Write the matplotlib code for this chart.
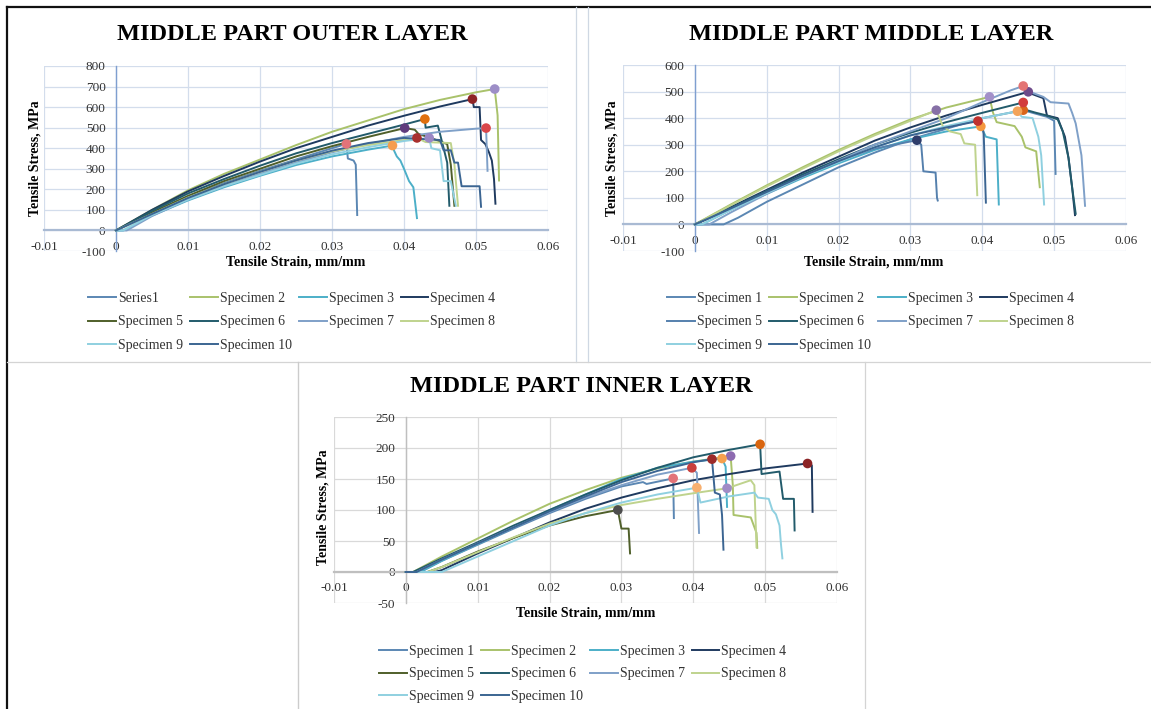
import matplotlib
matplotlib.use("Agg")
import matplotlib.pyplot as plt
from matplotlib.lines import Line2D

plt.rcParams['font.family'] = ['Liberation Serif', 'DejaVu Serif']

W, H = 1151, 709

XTICKS = [-0.01, 0, 0.01, 0.02, 0.03, 0.04, 0.05, 0.06]
XTICK_LABELS = ['-0.01', '0', '0.01', '0.02', '0.03', '0.04', '0.05', '0.06']

OUTER_NAMES = ['Series1', 'Specimen 2', 'Specimen 3', 'Specimen 4', 'Specimen 5',
               'Specimen 6', 'Specimen 7', 'Specimen 8', 'Specimen 9', 'Specimen 10']
SPEC_NAMES = ['Specimen 1', 'Specimen 2', 'Specimen 3', 'Specimen 4', 'Specimen 5',
              'Specimen 6', 'Specimen 7', 'Specimen 8', 'Specimen 9', 'Specimen 10']

OUTER_COLORS = ['#5b87b3', '#a9c26b', '#4cafc8', '#1f3a5f', '#4f5f2a',
                '#225b6b', '#7fa0c8', '#bfd38d', '#8fd0e0', '#3b6592']
MIDDLE_COLORS = ['#5b87b3', '#a9c26b', '#4cafc8', '#1f3a5f', '#5580ad',
                 '#225b6b', '#7fa0c8', '#bfd38d', '#8fd0e0', '#3b6592']
INNER_COLORS = OUTER_COLORS

# ---- MIDDLE PART OUTER LAYER ----
outer_yticks = [-100, 0, 100, 200, 300, 400, 500, 600, 700, 800]
outer_strain = [
    [0, 0.005, 0.01, 0.015, 0.02, 0.025, 0.03, 0.032, 0.0322, 0.033, 0.0333, 0.0335],
    [0, 0.005, 0.01, 0.015, 0.02, 0.025, 0.03, 0.035, 0.04, 0.045, 0.05, 0.0526, 0.053, 0.0532],
    [0, 0.001, 0.005, 0.01, 0.015, 0.02, 0.025, 0.03, 0.035, 0.0384, 0.0386, 0.039, 0.0395, 0.040, 0.0407, 0.0413, 0.0418],
    [0, 0.005, 0.01, 0.015, 0.02, 0.025, 0.03, 0.035, 0.04, 0.045, 0.0495, 0.0497, 0.0505, 0.0507, 0.0513, 0.0518, 0.0522, 0.0525, 0.0527],
    [0, 0.005, 0.01, 0.015, 0.02, 0.025, 0.03, 0.035, 0.0401, 0.0415, 0.042, 0.0445, 0.046, 0.0465, 0.047],
    [0, 0.005, 0.01, 0.015, 0.02, 0.025, 0.03, 0.035, 0.04, 0.0429, 0.043, 0.0447, 0.045, 0.0455, 0.046, 0.0463],
    [0, 0.0015, 0.005, 0.01, 0.015, 0.02, 0.025, 0.03, 0.035, 0.04, 0.045, 0.05, 0.0514, 0.0516],
    [0, 0.005, 0.01, 0.015, 0.02, 0.025, 0.03, 0.035, 0.04, 0.0418, 0.043, 0.0465, 0.047, 0.0475],
    [0, 0.001, 0.005, 0.01, 0.015, 0.02, 0.025, 0.03, 0.035, 0.04, 0.0435, 0.0438, 0.045, 0.0455, 0.0465, 0.0472],
    [0, 0.005, 0.01, 0.015, 0.02, 0.025, 0.03, 0.035, 0.04, 0.045, 0.0455, 0.0465, 0.047, 0.0475, 0.048, 0.0505, 0.0507],
]
outer_stress = [
    [0, 82, 160, 230, 290, 345, 400, 421, 350, 340, 320, 75],
    [0, 100, 195, 275, 345, 415, 480, 535, 590, 635, 672, 688, 560, 243],
    [0, 0, 72, 146, 210, 266, 318, 360, 393, 413, 390, 360, 340, 300, 240, 210, 60],
    [0, 100, 190, 265, 335, 400, 455, 510, 558, 603, 639, 600, 600, 440, 420, 380, 340, 250, 130],
    [0, 88, 168, 240, 300, 360, 410, 455, 498, 490, 470, 440, 420, 320, 120],
    [0, 95, 180, 250, 315, 375, 425, 470, 515, 542, 500, 510, 470, 400, 330, 120],
    [0, 0, 70, 150, 215, 275, 330, 380, 420, 455, 480, 495, 498, 290],
    [0, 80, 160, 225, 285, 340, 385, 415, 440, 450, 430, 425, 320, 120],
    [0, 0, 75, 150, 215, 270, 325, 370, 405, 435, 450, 400, 390, 240, 240, 120],
    [0, 80, 158, 225, 285, 340, 388, 425, 450, 440, 390, 390, 330, 330, 215, 215, 115],
]
outer_peak_x = [0.0320, 0.0526, 0.0384, 0.0495, 0.0401, 0.0429, 0.0514, 0.0418, 0.0435]
outer_peak_y = [421, 688, 413, 639, 498, 542, 498, 450, 450]
outer_peak_c = ['#e27379', '#9d8ec7', '#f59d4e', '#8e2426', '#5e3b7c',
                '#e0700f', '#d9464a', '#a8302e', '#9b87c4']

# ---- MIDDLE PART MIDDLE LAYER ----
middle_yticks = [-100, 0, 100, 200, 300, 400, 500, 600]
middle_strain = [
    [0, 0.004, 0.006, 0.01, 0.015, 0.02, 0.025, 0.03, 0.035, 0.04, 0.0457, 0.047, 0.049, 0.050, 0.0502],
    [0, 0.005, 0.01, 0.015, 0.02, 0.025, 0.03, 0.035, 0.041, 0.0415, 0.042, 0.0445, 0.0455, 0.046, 0.0475, 0.048],
    [0, 0.001, 0.005, 0.01, 0.015, 0.02, 0.025, 0.03, 0.035, 0.0398, 0.0405, 0.042, 0.0423],
    [0, 0.005, 0.01, 0.015, 0.02, 0.025, 0.03, 0.035, 0.04, 0.0464, 0.047, 0.0485, 0.049, 0.0505, 0.0515, 0.052, 0.0525, 0.0529],
    [0, 0.005, 0.01, 0.015, 0.02, 0.025, 0.0309, 0.0315, 0.0318, 0.0335, 0.0337, 0.0338],
    [0, 0.005, 0.01, 0.015, 0.02, 0.025, 0.03, 0.035, 0.04, 0.0457, 0.0462, 0.0475, 0.049, 0.0505, 0.0512, 0.052, 0.0525, 0.053],
    [0, 0.002, 0.005, 0.01, 0.015, 0.02, 0.025, 0.03, 0.035, 0.04, 0.044, 0.0457, 0.047, 0.0485, 0.0495, 0.052, 0.0525, 0.053, 0.0538, 0.0543],
    [0, 0.005, 0.01, 0.015, 0.02, 0.025, 0.03, 0.0336, 0.0345, 0.0355, 0.037, 0.0375, 0.039, 0.0393],
    [0, 0.001, 0.005, 0.01, 0.015, 0.02, 0.025, 0.03, 0.035, 0.04, 0.0449, 0.0455, 0.047, 0.0478, 0.0482, 0.0486],
    [0, 0.005, 0.01, 0.015, 0.02, 0.025, 0.03, 0.035, 0.0394, 0.040, 0.0402, 0.0405],
]
middle_stress = [
    [0, 0, 25, 85, 150, 215, 270, 320, 360, 400, 430, 420, 405, 390, 190],
    [0, 75, 147, 215, 280, 340, 395, 440, 480, 420, 385, 370, 330, 290, 275, 140],
    [0, 0, 55, 115, 175, 230, 280, 320, 350, 369, 330, 320, 75],
    [0, 65, 130, 195, 255, 315, 365, 410, 450, 499, 490, 475, 410, 400, 330, 250, 140, 35],
    [0, 60, 125, 185, 240, 285, 317, 300, 200, 195, 100, 90],
    [0, 62, 125, 188, 245, 300, 345, 385, 420, 459, 430, 420, 410, 395, 350, 250, 140, 40],
    [0, 0, 45, 115, 180, 240, 300, 350, 400, 460, 505, 521, 495, 480, 460, 455, 420, 380, 260, 70],
    [0, 72, 143, 210, 275, 335, 390, 430, 370, 350, 340, 305, 300, 110],
    [0, 0, 55, 118, 180, 235, 290, 335, 370, 400, 426, 405, 400, 330, 260, 75],
    [0, 60, 122, 182, 238, 290, 335, 365, 389, 375, 340, 82],
]
middle_peak_x = [0.0457, 0.0410, 0.0398, 0.0464, 0.0309, 0.0457, 0.0457, 0.0336, 0.0449, 0.0394]
middle_peak_y = [430, 480, 369, 499, 317, 459, 521, 430, 426, 389]
middle_peak_c = ['#d9651a', '#a390c9', '#f5983f', '#6e4a8a', '#2f3d6b',
                 '#d23c3c', '#e37474', '#8670a6', '#f3a35a', '#c0322f']

# ---- MIDDLE PART INNER LAYER ----
inner_yticks = [-50, 0, 50, 100, 150, 200, 250]
inner_strain = [
    [0, 0.002, 0.005, 0.01, 0.015, 0.02, 0.025, 0.03, 0.033, 0.0335, 0.0372, 0.0373],
    [0, 0.001, 0.005, 0.01, 0.015, 0.02, 0.025, 0.03, 0.035, 0.04, 0.0452, 0.0455, 0.0456, 0.048, 0.0488, 0.0489],
    [0, 0.002, 0.005, 0.01, 0.015, 0.02, 0.025, 0.03, 0.035, 0.04, 0.044, 0.0445, 0.0447],
    [0, 0.004, 0.005, 0.01, 0.015, 0.02, 0.025, 0.03, 0.035, 0.04, 0.045, 0.05, 0.0559, 0.0565, 0.0566],
    [0, 0.003, 0.005, 0.01, 0.015, 0.02, 0.025, 0.0295, 0.030, 0.031, 0.0312],
    [0, 0.001, 0.005, 0.01, 0.015, 0.02, 0.025, 0.03, 0.035, 0.04, 0.045, 0.0493, 0.0495, 0.052, 0.0525, 0.054, 0.0541],
    [0, 0.0015, 0.005, 0.01, 0.015, 0.02, 0.025, 0.03, 0.035, 0.0398, 0.0405, 0.0408],
    [0, 0.003, 0.005, 0.01, 0.015, 0.02, 0.025, 0.03, 0.035, 0.04, 0.0447, 0.048, 0.0485, 0.0488],
    [0, 0.005, 0.01, 0.015, 0.02, 0.025, 0.03, 0.035, 0.0405, 0.041, 0.045, 0.0485, 0.049, 0.0505, 0.051, 0.0515, 0.052, 0.0522, 0.0524],
    [0, 0.0015, 0.005, 0.01, 0.015, 0.02, 0.025, 0.03, 0.035, 0.04, 0.0426, 0.043, 0.0437, 0.044, 0.0442],
]
inner_stress = [
    [0, 0, 18, 44, 70, 95, 118, 138, 145, 142, 151, 87],
    [0, 0, 25, 54, 83, 110, 132, 152, 167, 178, 187, 140, 92, 88, 63, 39],
    [0, 0, 18, 45, 72, 100, 125, 150, 168, 178, 183, 170, 105],
    [0, 0, 3, 30, 55, 80, 102, 120, 135, 148, 158, 167, 175, 172, 97],
    [0, 0, 8, 33, 55, 75, 90, 100, 70, 70, 30],
    [0, 0, 22, 48, 75, 100, 125, 148, 168, 185, 197, 206, 158, 162, 118, 118, 67],
    [0, 0, 20, 46, 72, 97, 120, 140, 157, 168, 160, 63],
    [0, 0, 8, 32, 56, 78, 95, 108, 118, 127, 135, 148, 140, 40],
    [0, 0, 25, 50, 75, 95, 112, 125, 136, 112, 122, 128, 120, 118, 100, 93, 75, 45, 22],
    [0, 0, 20, 46, 72, 98, 122, 145, 163, 177, 182, 128, 125, 92, 36],
]
inner_peak_x = [0.0372, 0.0452, 0.0440, 0.0559, 0.0295, 0.0493, 0.0398, 0.0447, 0.0405, 0.0426]
inner_peak_y = [151, 187, 183, 175, 100, 206, 168, 135, 136, 182]
inner_peak_c = ['#e27379', '#8d6bb0', '#f5a04e', '#8b2325', '#4d4d4d',
                '#d9650f', '#c9403d', '#a08cc6', '#f7b070', '#9c2b2a']


def px(x, y):
    return x / W, 1 - y / H


def box(x0, y0, x1, y1):
    return [x0 / W, 1 - y1 / H, (x1 - x0) / W, (y1 - y0) / H]


def draw(ax, strain, stress, names, colors, pk_x, pk_y, pk_c, yticks,
         title, title_xy, xlab_xy, ylab_xy, leg_xy, leg_sp,
         grid_c, xaxis_c, yaxis_c):
    lines = []
    for sx, sy, c, n in zip(strain, stress, colors, names):
        ln, = ax.plot(sx, sy, color=c, lw=1.4, label=n, zorder=3)
        lines.append(ln)
    ax.scatter(pk_x, pk_y, s=48, c=pk_c, zorder=5, linewidths=0)

    ax.set_xlim(XTICKS[0], XTICKS[-1])
    ax.set_ylim(yticks[0], yticks[-1])
    ax.set_xticks(XTICKS, XTICK_LABELS)
    ax.set_yticks(yticks, [str(v) for v in yticks])
    ax.grid(True, color=grid_c, lw=0.9, zorder=0)
    ax.set_axisbelow(True)
    for s in ['top', 'right']:
        ax.spines[s].set_visible(False)
    ax.spines['bottom'].set_position(('data', 0))
    ax.spines['left'].set_position(('data', 0))
    ax.spines['bottom'].set_color(xaxis_c)
    ax.spines['bottom'].set_linewidth(1.6)
    ax.spines['left'].set_color(yaxis_c)
    ax.spines['left'].set_linewidth(1.0)
    ax.tick_params(axis='both', length=0, labelsize=9.5, labelcolor='#333333')
    ax.tick_params(axis='x', pad=7.5)
    ax.tick_params(axis='y', pad=7.5)

    ax.set_xlabel('Tensile Strain, mm/mm', fontsize=10, fontweight='bold', va='center')
    ax.xaxis.set_label_coords(*px(*xlab_xy), transform=fig.transFigure)
    ax.set_ylabel('Tensile Stress, MPa', fontsize=10, fontweight='bold', va='center')
    ax.yaxis.set_label_coords(*px(*ylab_xy), transform=fig.transFigure)

    fig.text(*px(*title_xy), title, ha='center', va='center',
             fontsize=17.5, fontweight='bold')

    # Excel fills the legend row by row
    order = [0, 4, 8, 1, 5, 9, 2, 6, 3, 7]
    fig.legend([lines[i] for i in order], [names[i] for i in order],
               loc='upper left', bbox_to_anchor=px(leg_xy[0], leg_xy[1] - 6),
               ncol=4, frameon=False, fontsize=10, handlelength=2.0,
               handletextpad=0.15, columnspacing=0.5, labelspacing=leg_sp,
               borderpad=0, borderaxespad=0, labelcolor='#333333')


fig = plt.figure(figsize=(W / 100, H / 100), dpi=100)

ax1 = fig.add_axes(box(44, 66, 548, 251))
draw(ax1, outer_strain, outer_stress, OUTER_NAMES, OUTER_COLORS,
     outer_peak_x, outer_peak_y, outer_peak_c, outer_yticks,
     'MIDDLE PART OUTER LAYER', (292, 34), (296, 262), (35, 158), (88, 298), 0.75,
     '#d3ddec', '#a9bad3', '#7f9fd0')

ax2 = fig.add_axes(box(623, 65, 1126, 251))
draw(ax2, middle_strain, middle_stress, SPEC_NAMES, MIDDLE_COLORS,
     middle_peak_x, middle_peak_y, middle_peak_c, middle_yticks,
     'MIDDLE PART MIDDLE LAYER', (871, 34), (874, 262), (612, 158), (667, 298), 0.75,
     '#d3ddec', '#a9bad3', '#7f9fd0')

ax3 = fig.add_axes(box(334, 417, 837, 603))
draw(ax3, inner_strain, inner_stress, SPEC_NAMES, INNER_COLORS,
     inner_peak_x, inner_peak_y, inner_peak_c, inner_yticks,
     'MIDDLE PART INNER LAYER', (581, 387), (586, 613), (323, 507), (379, 651), 0.68,
     '#d9d9d9', '#bfbfbf', '#bfbfbf')

# panel frames
def fline(x0, y0, x1, y1, c, lw):
    fig.add_artist(Line2D([x0 / W, x1 / W], [1 - y0 / H, 1 - y1 / H],
                          transform=fig.transFigure, color=c, lw=lw))

fline(7, 7, W, 7, '#111111', 1.6)
fline(7, 7, 7, H, '#111111', 1.6)
fline(576, 7, 576, 362, '#cfd8e3', 0.9)
fline(588, 7, 588, 362, '#cfd8e3', 0.9)
fline(7, 362, W, 362, '#d4d4d4', 0.9)
fline(298, 362, 298, H, '#cccccc', 1.0)
fline(865, 362, 865, H, '#d4d4d4', 0.9)

fig.savefig('out.png', dpi=100)
